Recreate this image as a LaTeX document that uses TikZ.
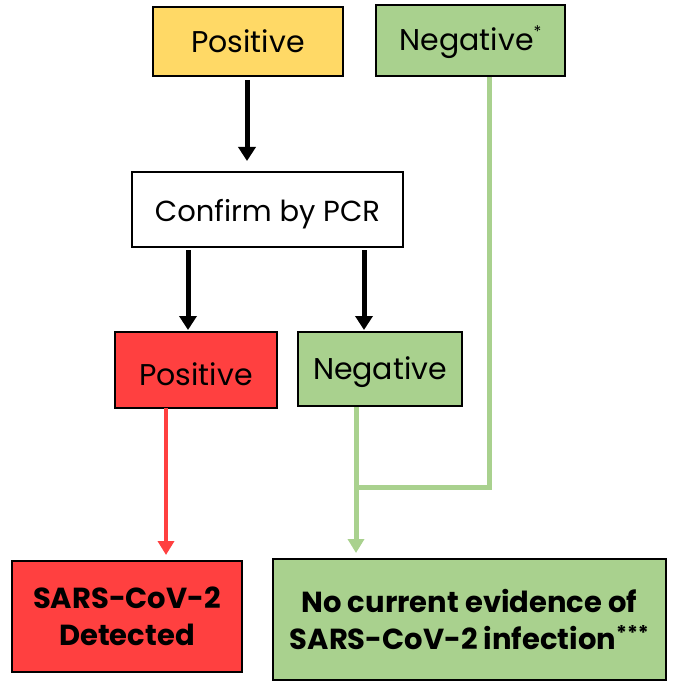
\documentclass[tikz,border=0pt]{standalone}
\usepackage{fontspec}
\setmainfont{Poppins}
\usetikzlibrary{arrows.meta}
\definecolor{cyellow}{HTML}{FFD966}
\definecolor{cgreen}{HTML}{A9D18E}
\definecolor{cred}{HTML}{FF4040}
\tikzset{
  box/.style={draw=black, line width=2pt, inner sep=0pt, align=center, text=black},
  reg/.style={font=\fontsize{30}{36}\selectfont, text depth=0pt},
  bld/.style={font=\bfseries\fontsize{29}{37}\selectfont},
  blk/.style={draw=black, line width=5pt, -{Triangle[length=14pt,width=17pt]}},
  grn/.style={draw=cgreen, line width=5pt},
  rd/.style={draw=cred, line width=4pt},
}
\begin{document}
\begin{tikzpicture}[x=1pt,y=-1pt]
\useasboundingbox (0,0) rectangle (672,687);
\node[box, reg, text height=23pt, fill=cyellow, minimum width=190pt, minimum height=69pt] (pos1) at (248,41.5) {Positive};
\node[box, reg, text height=21pt, fill=cgreen, minimum width=189pt, minimum height=71pt] (neg1) at (470.5,40.5) {Negative\raisebox{13pt}{\fontsize{16}{16}\selectfont *}};
\node[box, reg, text height=24pt, fill=white, minimum width=271pt, minimum height=75pt, font=\fontsize{29}{36}\selectfont] (pcr) at (267.5,209.5) {Confirm by PCR};
\node[box, reg, text height=30pt, fill=cred, minimum width=162pt, minimum height=76pt] (pos2) at (196,370) {Positive};
\node[box, reg, text height=21pt, fill=cgreen, minimum width=164pt, minimum height=74pt] (neg2) at (380,369) {Negative};
\node[box, bld, fill=cred, minimum width=230pt, minimum height=111pt] (det) at (127,616.5) {SARS-CoV-2\\Detected};
\node[box, bld, fill=cgreen, minimum width=393pt, minimum height=121pt] (noev) at (469.5,619.5) {No current evidence of\\SARS-CoV-2 infection\textsuperscript{***}};
% connectors
\coordinate (a1s) at (247,76);
\draw[blk, shorten <=4pt, shorten >=10pt] (a1s) -- (a1s |- pcr.north);
\coordinate (b1s) at (188,247);
\draw[blk, shorten <=3pt, shorten >=1pt] (b1s) -- (b1s |- pos2.north);
\coordinate (b2s) at (364,247);
\draw[blk, shorten <=3pt, shorten >=1pt] (b2s) -- (b2s |- neg2.north);
\coordinate (rs) at (166,408);
\draw[rd, -{Triangle[length=14pt,width=16pt]}, shorten >=5pt] (rs) -- (rs |- det.north);
\coordinate (gs) at (356,407);
\coordinate (gj) at (356,487);
\draw[grn, -{Triangle[length=14pt,width=16pt]}, shorten >=5pt] (gs) -- (gs |- noev.north);
\coordinate (ns) at (489,77);
\draw[grn] (ns) -- (489,487) -- (gj);
\end{tikzpicture}
\end{document}
